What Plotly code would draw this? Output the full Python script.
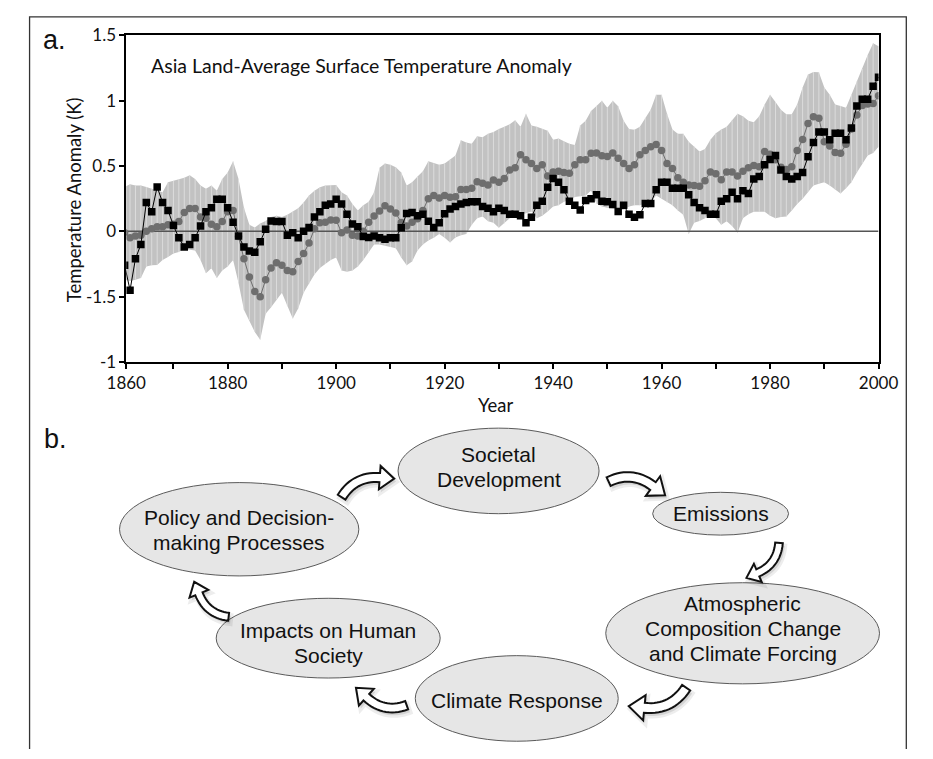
import numpy as np
import plotly.graph_objects as go

W, H = 933, 759

# ---------------- data (panel a) ----------------
years = list(range(1861, 2001))

black_series = [
    -0.26, -0.45, -0.21, -0.10, 0.22, 0.15, 0.34, 0.22, 0.16, 0.045,
    -0.05, -0.12, -0.10, -0.05, 0.04, 0.15, 0.18, 0.245, 0.245, 0.18,
    0.07, -0.035, -0.12, -0.15, -0.16, -0.08, 0.015, 0.08, 0.075, 0.075,
    -0.03, -0.01, -0.05, 0.0, 0.03, 0.11, 0.15, 0.2, 0.21, 0.245,
    0.21, 0.13, 0.057, 0.035, -0.04, -0.047, -0.035, -0.05, -0.06, -0.05,
    -0.05, 0.027, 0.136, 0.144, 0.12, 0.13, 0.077, 0.03, 0.065, 0.134,
    0.17, 0.19, 0.21, 0.22, 0.226, 0.226,
    0.19, 0.176, 0.15, 0.176, 0.16, 0.13, 0.13, 0.12, 0.065, 0.107,
    0.2, 0.23, 0.337, 0.404, 0.375, 0.318, 0.23, 0.2, 0.164, 0.236,
    0.25, 0.28, 0.23, 0.226, 0.206, 0.151, 0.2, 0.13, 0.107, 0.127,
    0.213, 0.213, 0.318, 0.375,
    0.375, 0.33, 0.33, 0.33, 0.28, 0.22, 0.18, 0.16, 0.13, 0.13,
    0.23, 0.25, 0.30, 0.25, 0.31, 0.29, 0.40, 0.42, 0.51, 0.55,
    0.58, 0.47, 0.42, 0.40, 0.42, 0.45, 0.57, 0.68, 0.76, 0.76,
    0.70, 0.75, 0.75, 0.70, 0.79, 0.96, 1.01, 1.01, 1.11, 1.18,
]

gray_series = [
    -0.01, -0.05, -0.035, -0.03, 0.0, 0.02, 0.035, 0.035, 0.05, 0.055,
    0.075, 0.145, 0.175, 0.175, 0.11, 0.1, 0.055, 0.035, 0.075, 0.15,
    0.16, -0.04, -0.21, -0.35, -0.46, -0.5, -0.37, -0.28, -0.24, -0.26,
    -0.3, -0.31, -0.23, -0.17, -0.09, 0.02, 0.065, 0.07, 0.087, 0.085,
    -0.01, 0.01, -0.03, -0.035, 0.0, 0.07, 0.117, 0.156, 0.196, 0.17,
    0.14, 0.067, 0.04, 0.07, 0.097, 0.16, 0.25, 0.275, 0.255, 0.275,
    0.26, 0.265, 0.32, 0.32, 0.33, 0.38,
    0.367, 0.355, 0.392, 0.375, 0.404, 0.469, 0.486, 0.586, 0.548, 0.52,
    0.48, 0.51, 0.424, 0.454, 0.46, 0.45, 0.444, 0.51, 0.548, 0.548,
    0.598, 0.6, 0.578, 0.573, 0.6, 0.56, 0.52, 0.48, 0.51, 0.586,
    0.618, 0.648, 0.665, 0.618,
    0.52, 0.48, 0.41, 0.375, 0.355, 0.35, 0.345, 0.387, 0.454, 0.44,
    0.394, 0.454, 0.454, 0.424, 0.46, 0.486, 0.504, 0.494, 0.61, 0.59,
    0.548, 0.49, 0.474, 0.494, 0.618, 0.702, 0.826, 0.876, 0.866, 0.685,
    0.653, 0.603, 0.598, 0.667, 0.784, 0.89, 0.963, 0.975, 0.978, 1.037,
]

band_upper = [
    0.34, 0.36, 0.35, 0.35, 0.34, 0.325, 0.31, 0.30, 0.375, 0.387,
    0.40, 0.41, 0.43, 0.40, 0.35, 0.325, 0.35, 0.31, 0.40, 0.45,
    0.536, 0.40, 0.18, 0.05, 0.03, 0.06, 0.08, 0.11, 0.12, 0.11,
    0.127, 0.15, 0.176, 0.22, 0.275, 0.31, 0.337, 0.35, 0.355, 0.355,
    0.30, 0.275, 0.21, 0.16, 0.2, 0.226, 0.3, 0.486, 0.52, 0.51,
    0.49, 0.45, 0.35, 0.375, 0.42, 0.46, 0.536, 0.52, 0.51, 0.52,
    0.548, 0.58, 0.697, 0.68, 0.67, 0.727,
    0.72, 0.747, 0.76, 0.784, 0.80, 0.82, 0.85, 0.80, 0.9, 0.81,
    0.80, 0.784, 0.77, 0.70, 0.71, 0.69, 0.67, 0.66, 0.81, 0.846,
    0.92, 0.96, 1.0, 0.945, 1.0, 0.958, 0.846, 0.784, 0.777, 0.8,
    0.87, 0.933, 1.045, 1.045,
    0.9, 0.78, 0.747, 0.747, 0.685, 0.65, 0.61, 0.63, 0.70, 0.75,
    0.78, 0.80, 0.85, 0.90, 0.88, 0.846, 0.834, 0.88, 0.97, 1.045,
    0.99, 0.93, 0.896, 0.896, 0.97, 1.1, 1.20, 1.22, 1.218, 1.10,
    1.045, 0.97, 0.96, 0.945, 1.045, 1.15, 1.243, 1.35, 1.44, 1.417,
]

band_lower = [
    -0.37, -0.38, -0.37, -0.357, -0.27, -0.26, -0.258, -0.22, -0.196, -0.17,
    -0.159, -0.134, -0.14, -0.146, -0.22, -0.32, -0.283, -0.357, -0.3, -0.27,
    -0.22, -0.395, -0.6, -0.68, -0.77, -0.83, -0.63, -0.58, -0.52, -0.47,
    -0.57, -0.667, -0.59, -0.47, -0.40, -0.33, -0.28, -0.25, -0.22, -0.2,
    -0.3, -0.31, -0.30, -0.27, -0.22, -0.16, -0.1, -0.1, -0.11, -0.12,
    -0.13, -0.2, -0.26, -0.23, -0.146, -0.1, -0.07, -0.05, -0.02, -0.05,
    -0.085, -0.047, -0.03, -0.02, 0.05, 0.1,
    0.114, 0.077, 0.065, 0.027, 0.06, 0.1, 0.12, 0.127, 0.139, 0.151,
    0.1, 0.12, 0.151, 0.19, 0.2, 0.226, 0.24, 0.263, 0.27, 0.275,
    0.313, 0.213, 0.19, 0.18, 0.176, 0.17, 0.164, 0.19, 0.2, 0.2,
    0.213, 0.226, 0.275, 0.25,
    0.22, 0.2, 0.16, 0.127, -0.02, 0.065, 0.08, 0.1, 0.15, 0.1,
    0.05, 0.077, 0.04, -0.01, 0.1, 0.13, 0.15, 0.15, 0.15, 0.12,
    0.1, 0.11, 0.114, 0.16, 0.21, 0.25, 0.3, 0.35, 0.365, 0.375,
    0.35, 0.32, 0.29, 0.33, 0.375, 0.45, 0.52, 0.58, 0.6, 0.648,
]

x_range = [1861.3, 2000]
x_tick_vals = [1861.3, 1880, 1900, 1920, 1940, 1960, 1980, 2000]
x_tick_text = ["1860", "1880", "1900", "1920", "1940", "1960", "1980", "2000"]
x_minor_vals = [1870, 1890, 1910, 1930, 1950, 1970, 1990]
y_tick_vals = [-1, -0.5, 0, 0.5, 1, 1.5]
y_tick_text = ["-1", "-1.5", "0", "0.5", "1", "1.5"]

chart_title = "Asia Land-Average Surface Temperature Anomaly"
y_title = "Temperature Anomaly (K)"
x_title = "Year"

# ---------------- diagram (panel b) ----------------
node_labels = [
    ["Societal", "Development"],
    ["Emissions"],
    ["Atmospheric", "Composition Change", "and Climate Forcing"],
    ["Climate Response"],
    ["Impacts on Human", "Society"],
    ["Policy and Decision-", "making Processes"],
]
# layout of nodes in pixels: (cx, cy, rx, ry, line y positions)
node_geom = [
    (500, 473, 105, 44, [456, 482]),
    (732, 517, 71, 22, [517]),
    (755, 640, 143, 52, [609, 635, 661]),
    (519, 707, 106, 44, [709]),
    (322, 645, 117, 41, [637, 663]),
    (229, 533, 125, 48, [521, 547]),
]
# arrows: (tail px, tip px)
arrow_geom = [
    ((336, 500), (391, 481)),
    ((615, 484), (674, 498)),
    ((793, 547), (759, 583)),
    ((696, 696), (636, 715)),
    ((404, 714), (351, 696)),
    ((218, 623), (182, 587)),
]
cycle_center = (505, 590)


def px(x, y):
    return x / W, 1 - y / H


def arrow_polygon(tail, tip, center):
    t0 = complex(*tail)
    t1 = complex(*tip)
    c = complex(*center)
    b = 0.30
    hw = 0.105
    head_len = 0.34
    head_w = 0.27
    P0, P1, P2 = 0 + 0j, 0.5 + b * 1j, 1 + 0j
    ts = np.linspace(0, 1, 16)
    pts = (1 - ts) ** 2 * P0 + 2 * (1 - ts) * ts * P1 + ts ** 2 * P2
    der = 2 * (1 - ts) * (P1 - P0) + 2 * ts * (P2 - P1)
    nrm = der / np.abs(der) * 1j
    left = pts + hw * nrm
    right = pts - hw * nrm
    tend = der[-1] / abs(der[-1])
    tip_l = P2 + head_len * tend
    head = [P2 + head_w * nrm[-1], tip_l, P2 - head_w * nrm[-1]]
    poly = list(left) + head + list(right[::-1])
    best = None
    for flip in (False, True):
        pl = [np.conj(z) if flip else z for z in poly]
        tl = np.conj(tip_l) if flip else tip_l
        ctrl = np.conj(P1) if flip else P1
        a = (t1 - t0) / tl
        mapped = [t0 + a * z for z in pl]
        d = abs(t0 + a * ctrl - c)
        if best is None or d > best[0]:
            best = (d, mapped)
    return best[1]


def path_from(points, dx=0.0, dy=0.0):
    parts = []
    for i, z in enumerate(points):
        x, y = px(z.real + dx, z.imag + dy)
        parts.append(("M" if i == 0 else "L") + f"{x:.5f},{y:.5f}")
    return " ".join(parts) + " Z"


fig = go.Figure()

fig.add_trace(go.Scatter(x=years, y=band_lower, mode="lines",
                         line=dict(width=0, color="#c3c3c3"),
                         hoverinfo="skip", showlegend=False))
fig.add_trace(go.Scatter(x=years, y=band_upper, mode="lines",
                         line=dict(width=0, color="#c3c3c3"),
                         fill="tonexty", fillcolor="#c2c2c2",
                         hoverinfo="skip", showlegend=False))
hx, hy = [], []
for yr, lo, up in zip(years, band_lower, band_upper):
    hx += [yr, yr, None]
    hy += [lo, up, None]
fig.add_trace(go.Scatter(x=hx, y=hy, mode="lines",
                         line=dict(width=1, color="rgba(226,226,226,0.8)"),
                         hoverinfo="skip", showlegend=False))
# zero reference line drawn over the band
fig.add_trace(go.Scatter(x=x_range, y=[0, 0], mode="lines",
                         line=dict(width=1.5, color="#555555"),
                         hoverinfo="skip", showlegend=False))
fig.add_trace(go.Scatter(x=years, y=gray_series, mode="lines+markers",
                         line=dict(width=1, color="#6e6e6e"),
                         marker=dict(symbol="circle", size=7.5, color="#6e6e6e"),
                         showlegend=False))
fig.add_trace(go.Scatter(x=years, y=black_series, mode="lines+markers",
                         line=dict(width=1, color="#000000"),
                         marker=dict(symbol="square", size=7.5, color="#000000"),
                         showlegend=False))

shapes = []
# outer frame
fx0, fy0 = px(10, 759)
fx1, fy1 = px(10, 6)
fx2, fy2 = px(926, 6)
fx3, fy3 = px(926, 759)
shapes.append(dict(type="path", xref="paper", yref="paper",
                   path=f"M{fx0},{fy0} L{fx1},{fy1} L{fx2},{fy2} L{fx3},{fy3}",
                   line=dict(color="#333333", width=1.3)))

annotations = []
# ellipses + text
for labels, (cx, cy, rx, ry, ys) in zip(node_labels, node_geom):
    x0, y0 = px(cx - rx, cy + ry)
    x1, y1 = px(cx + rx, cy - ry)
    shapes.append(dict(type="circle", xref="paper", yref="paper",
                       x0=x0, y0=y0, x1=x1, y1=y1,
                       fillcolor="#e6e6e6", line=dict(color="#5a5a5a", width=1),
                       layer="above"))
    for lab, ly in zip(labels, ys):
        ax, ay = px(cx, ly)
        annotations.append(dict(text=lab, x=ax, y=ay, xref="paper", yref="paper",
                                xanchor="center", yanchor="middle", showarrow=False,
                                font=dict(family="Liberation Sans, Arial", size=21,
                                          color="#111111")))

# arrows
for tail, tip in arrow_geom:
    poly = arrow_polygon(tail, tip, cycle_center)
    shapes.append(dict(type="path", xref="paper", yref="paper",
                       path=path_from(poly, 2, 3),
                       fillcolor="rgba(0,0,0,0.10)",
                       line=dict(color="rgba(0,0,0,0.07)", width=5), layer="above"))
    shapes.append(dict(type="path", xref="paper", yref="paper",
                       path=path_from(poly),
                       fillcolor="#ffffff",
                       line=dict(color="#111111", width=2), layer="above"))

# text labels
def add_text(t, x, y, size, family="Lato", anchor="center", angle=0):
    ax, ay = px(x, y)
    annotations.append(dict(text=t, x=ax, y=ay, xref="paper", yref="paper",
                            xanchor=anchor, yanchor="middle", showarrow=False,
                            textangle=angle,
                            font=dict(family=family, size=size, color="#111111")))

add_text(chart_title, 135, 56, 19.5, anchor="left")
add_text(y_title, 56, 194, 18.5, angle=-90)
add_text(x_title, 497, 405, 18.5)
add_text("a.", 36, 30, 27, family="Liberation Sans, Arial")
add_text("b.", 37, 440, 27, family="Liberation Sans, Arial")

fig.update_layout(
    width=W, height=H,
    margin=dict(l=0, r=0, t=0, b=0),
    paper_bgcolor="white", plot_bgcolor="white",
    font=dict(family="Lato", color="#111111"),
    showlegend=False,
    shapes=shapes,
    annotations=annotations,
    xaxis=dict(domain=[111 / W, 897 / W], range=x_range,
               tickmode="array", tickvals=x_tick_vals, ticktext=x_tick_text,
               ticks="outside", ticklen=5, tickwidth=1.5, tickcolor="black",
               showline=True, linecolor="black", linewidth=1.5, mirror=True,
               showgrid=False, zeroline=False,
               tickfont=dict(size=17, family="Lato", color="#111111"),
               minor=dict(tickmode="array", tickvals=x_minor_vals, ticks="outside",
                          ticklen=5, tickwidth=1.5, tickcolor="black", showgrid=False)),
    yaxis=dict(domain=[1 - 361 / H, 1 - 25 / H], range=[-1, 1.5],
               tickmode="array", tickvals=y_tick_vals, ticktext=y_tick_text,
               ticks="outside", ticklen=5, tickwidth=1.5, tickcolor="black",
               showline=True, linecolor="black", linewidth=1.5, mirror=True,
               showgrid=False, zeroline=False,
               tickfont=dict(size=17, family="Lato", color="#111111")),
)

fig.write_html("out.html", config={"displayModeBar": False},
               post_script="document.body.style.margin='0px';")
